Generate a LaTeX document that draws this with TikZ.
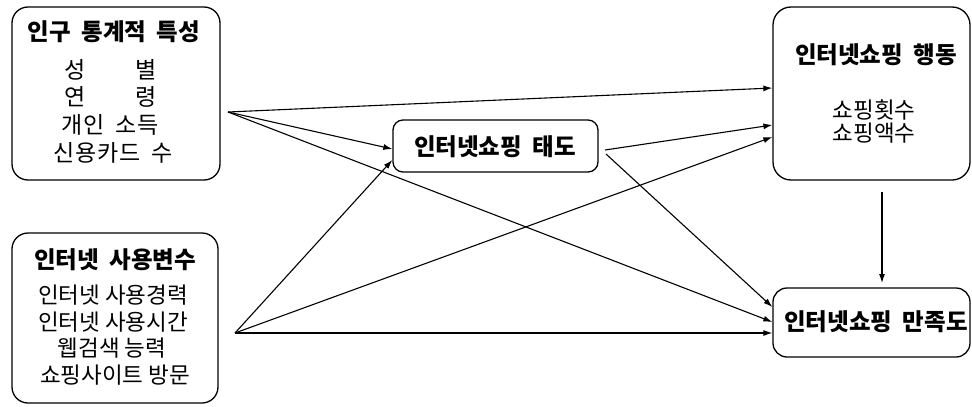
\documentclass[tikz,border=0pt]{standalone}
\usepackage{fontspec}
\setmainfont{Noto Sans CJK KR}
\usetikzlibrary{arrows.meta}
\newcommand{\wsp}{\hspace{0.45em}}
\begin{document}
\begin{tikzpicture}[x=1pt,y=-1pt,
  box/.style={draw, line width=1.3pt, inner sep=0pt},
  ttl/.style={font=\bfseries\fontsize{23.5}{23.5}\selectfont, inner sep=0pt},
  itm/.style={font=\fontsize{22.5}{22.5}\selectfont, inner sep=0pt},
  itmw/.style={font=\fontsize{23}{23}\selectfont\addfontfeatures{LetterSpace=4}, inner sep=0pt},
  arr/.style={line width=1.1pt, -{Latex[length=9pt,width=6pt]}},
]
\useasboundingbox (0,0) rectangle (972,407);
% boxes
\node[box, rounded corners=16pt, minimum width=208pt, minimum height=173pt] (b1) at (116,93.5) {};
\node[box, rounded corners=16pt, minimum width=206pt, minimum height=170pt] (b2) at (115,318) {};
\node[box, rounded corners=10pt, minimum width=205pt, minimum height=52pt] (b3) at (495.5,146) {};
\node[box, rounded corners=18pt, minimum width=197pt, minimum height=173pt] (b4) at (871.5,93.5) {};
\node[box, rounded corners=14pt, minimum width=197pt, minimum height=69pt] (b5) at (871.5,322.5) {};
% texts box 1
\node[ttl] (t1) at (114,32) {인구\wsp 통계적\wsp 특성};
\node[itmw] (t1a) at (111,70) {성\hspace{50pt}별};
\node[itmw] (t1b) at (111,97) {연\hspace{50pt}령};
\node[itmw] (t1c) at (110,125) {개인\wsp 소득};
\node[itmw] (t1d) at (113,153) {신용카드\wsp 수};
% texts box 2
\node[ttl] (t2) at (115,260) {인터넷\wsp 사용변수};
\node[itm] (t2a) at (113,295) {인터넷 사용경력};
\node[itm] (t2b) at (113,322) {인터넷 사용시간};
\node[itm] (t2c) at (112,348) {웹검색 능력};
\node[itm] (t2d) at (115,375) {쇼핑사이트 방문};
% box 3
\node[ttl] (t3) at (495,147) {인터넷쇼핑\wsp 태도};
% box 4
\node[ttl] (t4) at (876,55) {인터넷쇼핑\wsp 행동};
\node[itm] (t4a) at (874,110) {쇼핑횟수};
\node[itm] (t4b) at (874,133) {쇼핑액수};
% box 5
\node[ttl] (t5) at (876,322) {인터넷쇼핑\wsp 만족도};
% fan points
\coordinate (p1) at (228,112);
\coordinate (p2) at (235,333);
\coordinate (s3a) at (605,150);
\coordinate (s3b) at (606,154);
\coordinate (s4) at (882,192);
\coordinate (e5) at (882,283);
% connectors
\draw[arr] (p1) -- (b4.west |- 0,88);
\draw[arr] (p1) -- (b3.west |- 0,149);
\draw[arr] (p1) -- (b5.west |- 0,322);
\draw[arr] (p2) -- (b3.west |- 0,160);
\draw[arr] (p2) -- (b4.west |- 0,137);
\draw[arr] (p2) -- (b5.west |- 0,333);
\draw[arr] (s3a) -- (b4.west |- 0,125);
\draw[arr] (s3b) -- (b5.west |- 0,307);
\draw[arr] (s4) -- (e5);
\end{tikzpicture}
\end{document}
